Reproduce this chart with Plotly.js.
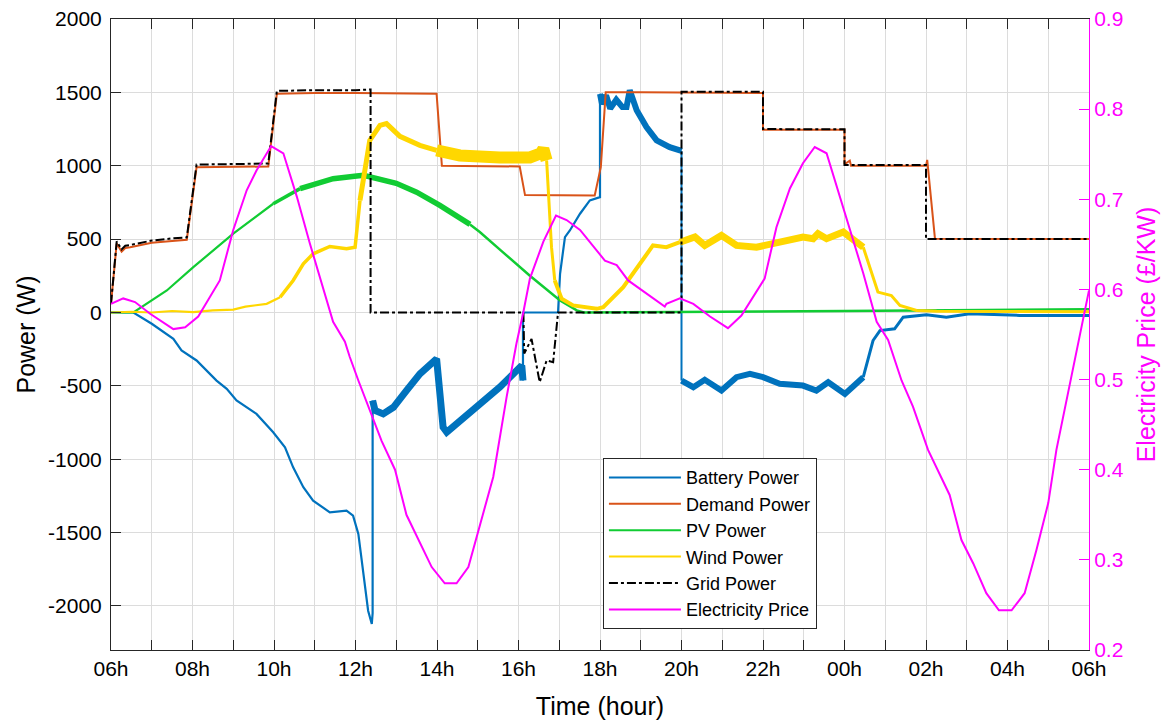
<!DOCTYPE html>
<html>
<head>
<meta charset="utf-8">
<script src="https://cdn.plot.ly/plotly-3.0.1.min.js"></script>
<style>html,body{margin:0;padding:0;background:#fff;}#chart{width:1175px;height:722px;}</style>
</head>
<body>
<div id="chart"></div>
<script>
// ---------- data (hours since 00:00 of day 1) ----------
const batT = [6.00, 6.55, 7.00, 7.53, 7.73, 8.10, 8.59, 8.84, 9.08, 9.57, 9.98, 10.27, 10.47, 10.72, 10.96, 11.37, 11.78, 11.94, 12.07, 12.19, 12.31, 12.40, 12.42, 12.42,
  12.48, 12.68, 12.93, 13.25, 13.58, 13.99, 14.15, 14.24, 14.89, 15.54, 16.08, 16.11,
  16.11, 16.97, 17.02, 17.14, 17.26, 17.51, 17.75, 18.00, 18.00,
  18.05, 18.15, 18.25, 18.40, 18.55, 18.65, 18.73, 18.90, 19.14, 19.39, 19.71, 19.96, 20.00,
  20.00, 20.29, 20.57, 20.98, 21.35, 21.68, 22.00, 22.41, 22.98, 23.31, 23.60, 24.01, 24.46, 24.70, 24.87,
  25.23, 25.44, 26.01, 26.50, 27.07, 28.30, 30.00];
const batW = [0, 0, -77, -180, -259, -327, -464, -520, -600, -691, -816, -919, -1055, -1191, -1282, -1362, -1350, -1384, -1509, -1782, -2032, -2123, -2050, -600,
  -668, -691, -646, -532, -418, -316, -782, -816, -668, -509, -361, -464,
  0, 0, 264, 514, 559, 673, 764, 786, 1490,
  1420, 1480, 1390, 1450, 1400, 1400, 1514, 1378, 1264, 1173, 1127, 1105, 1100,
  -464, -509, -459, -532, -441, -418, -441, -486, -498, -532, -475, -555, -441, -191, -123,
  -111, -32, -16, -32, -9, -20, -20];

const demT = [6.00, 6.14, 6.26, 6.35, 6.47, 7.00, 7.50, 7.86, 8.10, 9.00, 9.86, 10.07, 11.00, 12.00, 13.00, 13.99, 14.12, 15.00, 16.03, 16.16,
  17.00, 17.87, 18.02, 18.14, 19.00, 20.00, 21.00, 22.00, 22.00, 23.00, 24.00, 24.00, 24.13, 24.16, 25.00, 26.00, 26.03, 26.22, 30.00];
const demW = [60, 470, 415, 440, 445, 475, 488, 496, 990, 995, 995, 1490, 1495, 1495, 1490, 1490, 1000, 1000, 995, 800,
  800, 798, 990, 1500, 1500, 1500, 1500, 1495, 1245, 1245, 1245, 1010, 1035, 1000, 1000, 1000, 1040, 503, 500];

const pvT = [6.00, 6.55, 7.37, 8.02, 9.00, 9.98, 10.64, 11.45, 12.03, 12.20, 13.00, 13.50, 14.07, 14.81, 15.05, 15.60, 16.28, 17.02, 17.43, 17.60, 20.00, 24.00, 30.00];
const pvW = [0, 0, 150, 309, 537, 741, 844, 912, 930, 935, 880, 820, 730, 600, 548, 415, 250, 82, 14, 0, 3, 10, 22];

const windT = [6.00, 6.50, 7.00, 7.50, 8.02, 8.50, 9.00, 9.30, 9.82, 10.15, 10.47, 10.72, 10.96, 11.37, 11.78, 11.99, 12.11, 12.35, 12.60, 12.76,
  13.09, 13.58, 13.99, 14.56, 15.54, 16.28, 16.55, 16.61, 16.69, 16.73, 16.81, 16.89, 17.06, 17.34, 17.92, 18.08, 18.57, 18.98, 19.30, 19.63,
  19.96, 20.33, 20.57, 20.98, 21.35, 21.84, 22.41, 22.98, 23.23, 23.35, 23.56, 23.97, 24.46, 24.62, 24.82, 25.15, 25.36, 25.77, 26.26, 30.00];
const windW = [0, 5, 0, 10, 2, 15, 20, 40, 59, 104, 218, 332, 400, 450, 434, 445, 764, 1173, 1275, 1287,
  1200, 1139, 1105, 1070, 1057, 1057, 1085, 1115, 1037, 810, 445, 218, 93, 48, 25, 36, 173, 332, 457, 445,
  479, 514, 457, 525, 457, 445, 479, 514, 503, 537, 503, 548, 445, 309, 139, 116, 48, 14, 9, 5];

const gridT = [6.00, 6.14, 6.26, 6.35, 6.47, 7.00, 7.50, 7.86, 8.10, 9.00, 9.86, 10.07, 11.00, 12.00, 12.37, 12.37,
  16.12, 16.14, 16.32, 16.52, 16.69, 16.85, 16.97, 20.00, 20.00, 22.00, 22.00, 24.00, 24.00, 26.00, 26.00, 30.00];
const gridW = [60, 485, 430, 455, 460, 490, 505, 512, 1008, 1012, 1015, 1510, 1515, 1515, 1520, 0,
  0, -280, -180, -475, -327, -339, 0, 0, 1505, 1505, 1250, 1248, 1005, 1005, 500, 500];

const priceT = [6.00, 6.30, 6.59, 6.96, 7.53, 7.82, 8.14, 8.67, 9.00, 9.33, 9.57, 9.93, 10.23, 10.56, 10.88, 11.45, 11.74, 11.86, 12.07, 12.64,
  12.97, 13.25, 13.87, 14.19, 14.48, 14.77, 15.38, 15.71, 15.95, 16.12, 16.28, 16.61, 16.92, 17.18, 17.51, 18.12, 18.41, 18.69, 19.59, 19.63,
  19.96, 20.29, 20.70, 21.14, 21.47, 22.04, 22.33, 22.66, 22.98, 23.27, 23.56, 23.84, 24.13, 24.46, 24.79, 25.07, 25.40, 25.68, 26.05, 26.58,
  26.87, 27.16, 27.48, 27.79, 28.10, 28.42, 28.71, 29.00, 29.20, 30.00];
const priceV = [0.584, 0.590, 0.586, 0.573, 0.556, 0.558, 0.570, 0.610, 0.666, 0.710, 0.732, 0.759, 0.751, 0.703, 0.651, 0.564, 0.542, 0.525, 0.499, 0.432,
  0.400, 0.350, 0.292, 0.274, 0.274, 0.292, 0.392, 0.481, 0.540, 0.575, 0.612, 0.653, 0.682, 0.677, 0.666, 0.632, 0.627, 0.610, 0.581, 0.584,
  0.590, 0.584, 0.570, 0.557, 0.571, 0.612, 0.669, 0.712, 0.740, 0.758, 0.751, 0.710, 0.669, 0.618, 0.564, 0.544, 0.499, 0.470, 0.422, 0.372,
  0.322, 0.296, 0.263, 0.244, 0.244, 0.263, 0.311, 0.363, 0.422, 0.599];

const xTickVals = [6, 7, 8, 9, 10, 11, 12, 13, 14, 15, 16, 17, 18, 19, 20, 21, 22, 23, 24, 25, 26, 27, 28, 29, 30];
const xTickText = ['06h', '', '08h', '', '10h', '', '12h', '', '14h', '', '16h', '', '18h', '', '20h', '', '22h', '', '00h', '', '02h', '', '04h', '', '06h'];
const yTickVals = [-2000, -1500, -1000, -500, 0, 500, 1000, 1500, 2000];
const yTickText = ['-2000', '-1500', '-1000', '-500', '0', '500', '1000', '1500', '2000'];
const y2TickVals = [0.2, 0.3, 0.4, 0.5, 0.6, 0.7, 0.8, 0.9];
const y2TickText = ['0.2', '0.3', '0.4', '0.5', '0.6', '0.7', '0.8', '0.9'];

// ---------- styling ----------
const C = {bat: '#0072BD', dem: '#D95319', pv: '#11CC33', wind: '#FFD700', grid: '#000000', price: '#FF00FF'};
// segment line widths (index ranges into the arrays) to mimic the noisy bands
const batSegs = [[0, 23, 2.2], [23, 35, 7], [35, 44, 2.2], [44, 57, 6], [57, 58, 2], [58, 70, 6], [70, 79, 3]];
const pvSegs = [[0, 5, 2.2], [5, 6, 3.5], [6, 13, 5.5], [13, 22, 2.5]];
const windSegs = [[0, 9, 2.2], [9, 16, 3.5], [16, 22, 5], [22, 28, 12], [28, 31, 3], [31, 40, 4], [40, 52, 7], [52, 59, 3]];

const traces = [];
function addSeries(name, t, v, color, segs, legendWidth) {
  segs.forEach((s) => {
    traces.push({
      x: t.slice(s[0], s[1] + 1), y: v.slice(s[0], s[1] + 1),
      type: 'scatter', mode: 'lines', name: name,
      showlegend: false, hoverinfo: 'skip',
      line: {color: color, width: s[2]}
    });
  });
  traces.push({x: [null], y: [null], type: 'scatter', mode: 'lines', name: name, showlegend: true,
    line: {color: color, width: legendWidth}});
}
addSeries('Battery Power', batT, batW, C.bat, batSegs, 2);
addSeries('Demand Power', demT, demW, C.dem, [[0, demT.length - 1, 2]], 2);
addSeries('PV Power', pvT, pvW, C.pv, pvSegs, 2);
addSeries('Wind Power', windT, windW, C.wind, windSegs, 2);
traces.push({x: gridT, y: gridW, type: 'scatter', mode: 'lines', name: 'Grid Power',
  line: {color: C.grid, width: 2, dash: 'dashdot'}});
traces.push({x: priceT, y: priceV, type: 'scatter', mode: 'lines', name: 'Electricity Price', yaxis: 'y2',
  line: {color: C.price, width: 2}});

const font = 'Liberation Sans, Arial, Helvetica, sans-serif';
const axisCol = '#262626';
const gridCol = '#dcdcdc';
const layout = {
  width: 1175, height: 722,
  margin: {l: 111, r: 86, t: 19, b: 72, pad: 0},
  paper_bgcolor: '#ffffff', plot_bgcolor: '#ffffff',
  font: {family: font, size: 21, color: '#000'},
  showlegend: true,
  legend: {x: 0.503, y: 0.304, xanchor: 'left', yanchor: 'top', bgcolor: '#ffffff',
    bordercolor: axisCol, borderwidth: 1, font: {family: font, size: 18, color: '#000'},
    tracegroupgap: 0, itemwidth: 72, traceorder: 'normal'},
  xaxis: {range: [6, 30], tickmode: 'array', tickvals: xTickVals, ticktext: xTickText,
    ticks: 'inside', ticklen: 10, tickwidth: 1, tickcolor: axisCol,
    showline: true, linecolor: axisCol, linewidth: 1, mirror: 'ticks',
    showgrid: true, gridcolor: gridCol, gridwidth: 1, zeroline: false,
    tickfont: {size: 21, color: '#000'}, automargin: false,
    title: {text: 'Time (hour)', font: {size: 25, color: '#000'}, standoff: 18}},
  yaxis: {range: [-2300, 2000], tickmode: 'array', tickvals: yTickVals, ticktext: yTickText,
    ticks: 'inside', ticklen: 10, tickwidth: 1, tickcolor: axisCol, ticklabelstandoff: 4,
    showline: true, linecolor: axisCol, linewidth: 1, mirror: false,
    showgrid: true, gridcolor: gridCol, gridwidth: 1, zeroline: false,
    tickfont: {size: 21, color: '#000'}, automargin: false,
    title: {text: 'Power (W)', font: {size: 25, color: '#000'}, standoff: 5}},
  yaxis2: {range: [0.2, 0.9], overlaying: 'y', side: 'right', tickmode: 'array', tickvals: y2TickVals, ticktext: y2TickText,
    ticks: 'inside', ticklen: 10, tickwidth: 1, tickcolor: C.price,
    showline: true, linecolor: C.price, linewidth: 1,
    showgrid: false, zeroline: false, automargin: false,
    tickfont: {size: 21, color: C.price},
    title: {text: 'Electricity Price (£/KW)', font: {size: 25, color: C.price}, standoff: 14}}
};
Plotly.newPlot('chart', traces, layout, {displayModeBar: false, staticPlot: true});
</script>
</body>
</html>
